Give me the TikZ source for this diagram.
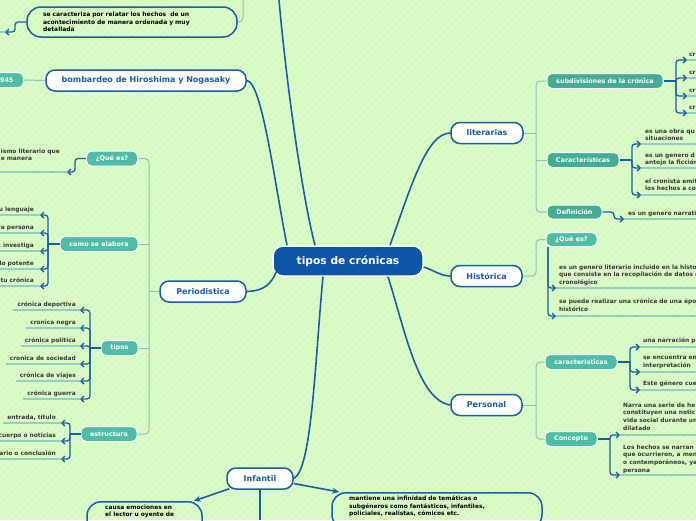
\documentclass[tikz,border=0pt]{standalone}
\usepackage{fontspec}
\setmainfont{DejaVu Sans}
\usetikzlibrary{arrows.meta,calc}
\definecolor{bg}{HTML}{D9FBC6}
\definecolor{stripe}{HTML}{D0F3BC}
\definecolor{cblue}{HTML}{0D55A5}
\definecolor{mblue}{HTML}{1C5DA9}
\definecolor{tealn}{HTML}{4DBEA5}
\definecolor{tealdk}{HTML}{43AD94}
\definecolor{lconn}{HTML}{8DC2C0}
\definecolor{uline}{HTML}{96CCC6}
\definecolor{leaftxt}{HTML}{383838}
\tikzset{
 centerbox/.style={draw=white, line width=1.5pt, fill=cblue, rounded corners=10pt, minimum width=150pt, minimum height=30pt, text=white, font=\bfseries\fontsize{10.7}{12}\selectfont, inner sep=0},
 mainbox/.style={draw=mblue, line width=1.5pt, fill=white, rounded corners=9pt, minimum height=21pt, text=mblue, font=\bfseries\fontsize{8}{10}\selectfont, inner sep=0},
 subbox/.style={draw=white, line width=1pt, fill=tealn, rounded corners=5pt, minimum height=15pt, text=white, font=\bfseries\fontsize{6.4}{8}\selectfont, inner sep=0},
 textbox/.style={draw=mblue, line width=1.5pt, rounded corners=14pt},
 leaf/.style={text=leaftxt, font=\bfseries\fontsize{5.9}{7.8}\selectfont, inner sep=0, align=left},
 conn/.style={draw=mblue, line width=1.6pt},
 light/.style={draw=lconn, line width=1pt, rounded corners=4pt},
 brl/.style={draw=mblue, line width=1.3pt},
 br/.style={draw=mblue, line width=1.3pt, rounded corners=3pt, -{Straight Barb[length=3pt,width=6pt]}},
 ul/.style={draw=uline, line width=1.2pt},
}
\begin{document}
\begin{tikzpicture}[x=1pt,y=-1pt]
\clip (0,0) rectangle (696,520);
\fill[bg] (0,0) rectangle (696,520);
\foreach \i in {-520,-513,...,696} \draw[stripe, line width=0.6pt] (\i,520) -- ++(520,-520);

% ---------- nodes ----------
\node[centerbox] (C) at (348,261) {tipos de crónicas};
\node[mainbox, minimum width=200pt] (bomb) at (146,80.5) {bombardeo de Hiroshima y Nogasaky};
\node[mainbox, minimum width=86pt] (per) at (203,291.5) {Periodistica};
\node[mainbox, minimum width=72pt] (lit) at (487,133) {literarias};
\node[mainbox, minimum width=71pt] (his) at (486.5,276) {Histórica};
\node[mainbox, minimum width=71pt] (pers) at (486.5,405) {Personal};
\node[mainbox, minimum width=66pt] (inf) at (260,478.5) {Infantil};

\node[textbox, text width=178pt, inner xsep=16pt, inner ysep=0pt, minimum height=30pt, align=left, text=black, font=\bfseries\fontsize{6}{7.7}\selectfont] (sec) at (132,22) {se caracteriza por relatar los hechos\ \ de un\\acontecimiento de manera ordenada y muy\\detallada};

\node[textbox, minimum width=115pt, minimum height=36pt, anchor=north] (cau) at (144.5,501) {};
\node[leaf, text=black, anchor=north west] (caut) at (105,504.4) {causa emociones en\\el lector u oyente de};
\node[textbox, minimum width=210pt, minimum height=36pt, anchor=north] (man) at (437,492) {};
\node[leaf, text=black, anchor=north west] (mant) at (349,495.4) {mantiene una infinidad de temáticas o\\subgéneros como fantásticos, infantiles,\\policiales, realistas, cómicos etc.};

\node[subbox, minimum width=38pt, anchor=east] (y45) at (24,80) {1945};
\node[subbox, minimum width=51pt] (q1) at (112,158.5) {¿Qué es?};
\node[subbox, minimum width=78pt] (elab) at (99,244) {como se elabora};
\node[subbox, minimum width=37pt] (tip) at (119.5,348) {tipos};
\node[subbox, minimum width=56pt] (est) at (109,434) {estructura};
\node[subbox, fill=tealdk, minimum width=116pt] (sub) at (605,81) {subdivisiones de la crónica};
\node[subbox, fill=tealdk, minimum width=72pt] (car) at (583,160) {Características};
\node[subbox, fill=tealdk, minimum width=55pt, minimum height=14pt] (def) at (574.5,212) {Definición};
\node[subbox, minimum width=51pt, minimum height=14pt] (q2) at (571.5,239.5) {¿Qué es?};
\node[subbox, minimum width=72pt] (car2) at (581,362) {caracteristicas};
\node[subbox, minimum width=52pt] (con) at (571,439) {Concepto};

% ---------- main connectors ----------
\coordinate (topB) at (279,0);
\draw[conn] ($(C.north)+(-33,0)$) .. controls (303,200) and (287,90) .. (topB);
\draw[conn] (bomb.east) .. controls (262,82) and (274,180) .. ($(C.north)+(-61,0)$);
\draw[conn] (per.east) .. controls (264,291) and (271,284) .. ($(C.west)+(4,11)$);
\draw[conn] ($(C.east)+(0,6)$) .. controls (433,270) and (441,276) .. (his.west);
\draw[conn] ($(C.north)+(42,0)$) .. controls (410,190) and (426,133) .. (lit.west);
\draw[conn] ($(C.south)+(40,0)$) .. controls (405,330) and (418,400) .. (pers.west);
\draw[conn] ($(C.south)+(-25,0)$) .. controls (315,360) and (312,470) .. (inf.east);
\coordinate (infB) at (260,520);
\draw[conn] (inf.south) -- (infB);
\draw[conn, -{Stealth[length=7pt,width=6pt]}] ($(inf.south west)+(3,-1)$) -- ($(cau.north east)+(-9,0)$);
\draw[conn, -{Stealth[length=7pt,width=6pt]}] ($(inf.east)+(0,5)$) -- ($(man.north west)+(8,0)$);

% ---------- light hierarchy lines ----------
\draw[light] (y45.east) -- (bomb.west);
\coordinate (topA) at (243,0);
\draw[light] (topA) |- (sec.east);
\coordinate (pT) at (149,291.5);
\draw[light] (q1.east) -| (pT) |- (est.east);
\draw[light] (per.west) -- (pT);
\draw[light] (elab.east) -- (elab.east -| pT);
\draw[light] (tip.east) -- (tip.east -| pT);
\coordinate (lT) at (536,133);
\draw[light] (sub.west) -| (lT) |- (def.west);
\draw[light] (lit.east) -- (lT);
\draw[light] (car.west) -- (car.west -| lT);
\coordinate (hT) at (536,276);
\draw[light] (his.east) -- (hT) |- (q2.west);
\coordinate (sT) at (536,405);
\draw[light] (car2.west) -| (sT) |- (con.west);
\draw[light] (pers.east) -- (sT);

% ---------- left leaves ----------
\coordinate (sa) at (5,32);
\draw[ul] (0,32) -- (sa);
\draw[br] (sec.west) -- (15,22) |- (sa);

\node[leaf, anchor=north east] (tq1) at (60,148.4) {ismo literario que\\e manera};
\coordinate (aq1) at (67,172);
\draw[ul] (0,172) -- (aq1);
\draw[br] (q1.west) -- (75,158.5) |- (aq1);

\coordinate (jE) at (48,244);
\draw[brl] (elab.west) -- (jE);
\foreach \t/\y [count=\k] in {u lenguaje/215,ra persona/233,{, investiga}/251,lo potente/269,tu crónica/286}{
 \node[leaf, anchor=base east] (e\k) at (34,{\y-4}) {\t};
 \coordinate (ea\k) at (40,\y);
 \draw[ul] (0,\y) -- (ea\k);
 \draw[br] (jE) |- (ea\k);
}

\coordinate (jT) at (90,348);
\draw[brl] (tip.west) -- (jT);
\foreach \t/\y [count=\k] in {crónica deportiva/310,cronica negra/328,crónica política/346,cronica de sociedad/364,crónica de viajes/381,crónica guerra/399}{
 \node[leaf, anchor=base east] (t\k) at (76,{\y-4}) {\t};
 \coordinate (ta\k) at (80,\y);
 \draw[ul] ($(t\k.west |- ta\k)+(-4,0)$) -- (ta\k);
 \draw[br] (jT) |- (ta\k);
}

\coordinate (jS) at (70,434);
\draw[brl] (est.west) -- (jS);
\foreach \t/\y [count=\k] in {{entrada, título}/423,cuerpo o noticias/441,ario o conclusión/459}{
 \node[leaf, anchor=base east] (s\k) at (56,{\y-4}) {\t};
 \coordinate (sa\k) at (61,\y);
 \draw[ul] ($(s\k.west |- sa\k)+(-4,0)$) -- (sa\k);
 \draw[br] (jS) |- (sa\k);
}

% ---------- right leaves ----------
\coordinate (jSub) at (676,81);
\draw[brl] (sub.east) -- (jSub);
\foreach \y [count=\k] in {60,78,96,113}{
 \node[leaf, anchor=base west] (c\k) at (689,{\y-4}) {cr};
 \coordinate (ca\k) at (687,\y);
 \draw[ul] (ca\k) -- (696,\y);
 \draw[br] (jSub) |- (ca\k);
}

\coordinate (jC) at (632,160);
\draw[brl] (car.east) -- (jC);
\node[leaf, anchor=north west] (k1) at (645,128.4) {es una obra qu\\situaciones};
\node[leaf, anchor=north west] (k2) at (645,152.4) {es un genero d\\antojo la ficción};
\node[leaf, anchor=north west] (k3) at (645,178.4) {el cronista emit\\los hechos a co};
\foreach \y [count=\k] in {144,168,195}{
 \coordinate (ka\k) at (641,\y);
 \draw[ul] (ka\k) -- (696,\y);
 \draw[br] (jC) |- (ka\k);
}

\coordinate (da) at (624,219);
\draw[ul] (da) -- (696,219);
\draw[br] (def.east) -- (614,212) |- (da);
\node[leaf, anchor=base west] (dt) at (628,215) {es un genero narrativo};

\coordinate (hq) at ($(q2.south west)+(2.5,0)$);
\node[leaf, anchor=north west] (h1) at (559,264.4) {es un genero literario incluido en la historia\\que consiste en la recopilación de datos c\\cronológico};
\node[leaf, anchor=north west] (h2) at (559,298.9) {se puede realizar una crónica de una época\\histórico};
\foreach \y [count=\k] in {288,316}{
 \coordinate (ha\k) at (556,\y);
 \draw[ul] (ha\k) -- (696,\y);
 \draw[br] (hq) |- (ha\k);
}

\coordinate (jC2) at (630,362);
\draw[brl] (car2.east) -- (jC2);
\node[leaf, anchor=base west] (p1) at (643,342.5) {una narración p};
\node[leaf, anchor=north west] (p2) at (643,355.4) {se encuentra en\\interpretación};
\node[leaf, anchor=base west] (p3) at (643,385.5) {Este género cue};
\foreach \y [count=\k] in {347,372,390}{
 \coordinate (pa\k) at (640,\y);
 \draw[ul] (pa\k) -- (696,\y);
 \draw[br] (jC2) |- (pa\k);
}

\coordinate (jK) at (610,439);
\draw[brl] (con.east) -- (jK);
\node[leaf, anchor=north west] (n1) at (623,402.4) {Narra una serie de he\\constituyen una notic\\vida social durante un\\dilatado};
\node[leaf, anchor=north west] (n2) at (623,444.4) {Los hechos se narran\\que ocurrieron, a men\\o contemporáneos, ya\\persona};
\foreach \y [count=\k] in {435,475}{
 \coordinate (na\k) at (620,\y);
 \draw[ul] (na\k) -- (696,\y);
 \draw[br] (jK) |- (na\k);
}
\end{tikzpicture}
\end{document}
